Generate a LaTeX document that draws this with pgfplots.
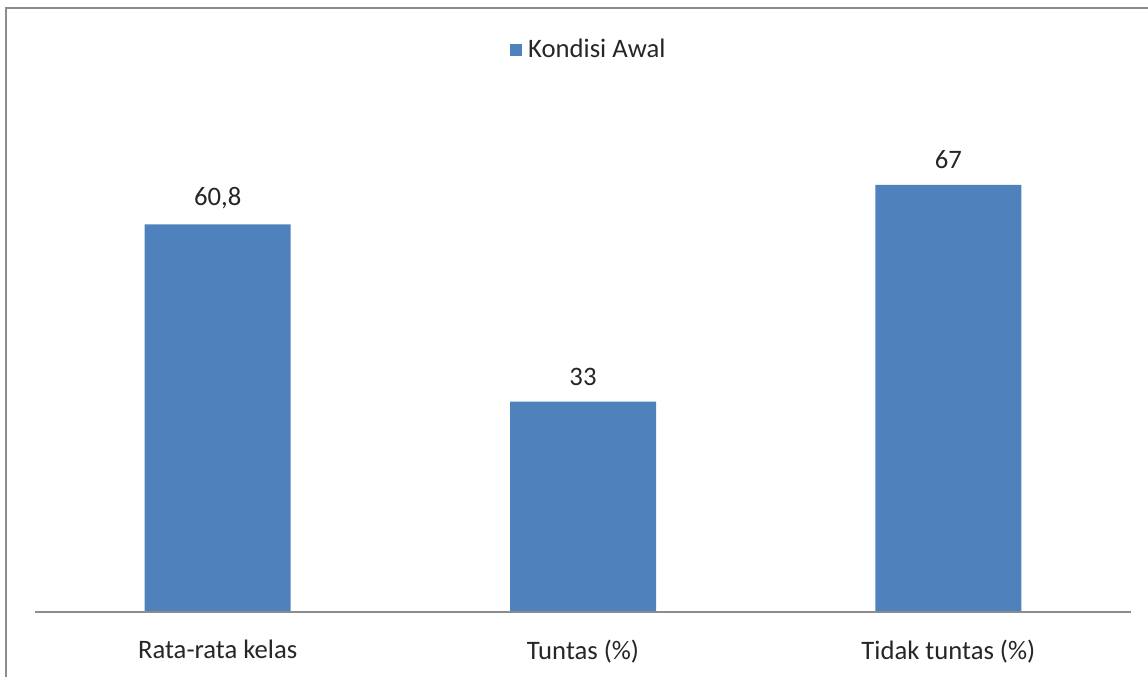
\documentclass[border=0pt]{standalone}
\usepackage{pgfplots}
\pgfplotsset{compat=1.18}
\usepackage{fontspec}
\setmainfont{Carlito}
\definecolor{barblue}{HTML}{4F81BD}
\definecolor{txt}{HTML}{262626}
\definecolor{framegray}{HTML}{8C8C8C}

\begin{document}
\begin{tikzpicture}[font=\fontsize{16}{19}\selectfont, text=txt]
    % page box and outer frame (left and top edges only, as in the picture)
    \path[use as bounding box] (0,0) rectangle (688.8pt,406.2pt);
    \draw[framegray, line width=1.2pt] (3.6pt,0) -- (3.6pt,401.4pt) -- (688.8pt,401.4pt);

    \begin{axis}[
        name=main,
        at={(21pt,39pt)},
        anchor=south west,
        scale only axis,
        width=657.6pt,
        height=306pt,
        ybar,
        bar width=87.6pt,
        xmin=-0.5, xmax=2.5,
        ymin=0, ymax=80,
        enlargelimits=false,
        axis y line=none,
        axis x line*=bottom,
        x axis line style={draw=none},
        xtick={0,1,2},
        xticklabels={Rata-rata kelas, Tuntas (\%), Tidak tuntas (\%)},
        xtick style={draw=none},
        xticklabel style={yshift=-9pt, text=txt},
        /pgf/number format/assume math mode=true,
        nodes near coords={\pgfmathprintnumber[use comma]{\pgfplotspointmeta}},
        nodes near coords style={yshift=6pt, text=txt},
        legend style={draw=none, fill=none, inner sep=0pt,
                      at={(0.433,1.102)}, anchor=west,
                      legend cell align=left},
        legend image code/.code={\fill[barblue] (0pt,-3.6pt) rectangle (7pt,3.6pt);},
    ]
    \addplot[fill=barblue, draw=none] coordinates {
        (0, 60.8)
        (1, 33)
        (2, 67)
    };
    \legend{\hspace{2pt}Kondisi Awal}
    \end{axis}
    % baseline of the bars
    \draw[framegray, line width=0.8pt] (21pt,39pt) -- (678.6pt,39pt);
\end{tikzpicture}
\end{document}
